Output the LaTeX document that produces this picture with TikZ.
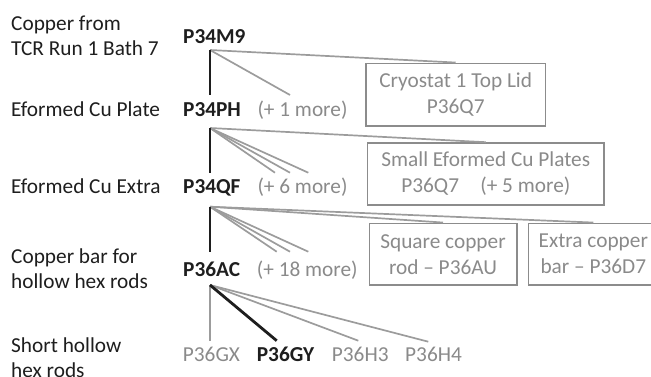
\documentclass[tikz,border=0pt]{standalone}
\usepackage{fontspec}
\setmainfont{Carlito}
\definecolor{ink}{HTML}{1E1E1E}
\definecolor{greytext}{HTML}{8A8A8A}
\definecolor{greyline}{HTML}{9C9C9C}
\definecolor{greybox}{HTML}{8C8C8C}
\tikzset{
  lbl/.style={anchor=base west, inner sep=0pt, text=ink, font=\fontsize{21.3bp}{26bp}\selectfont},
  idb/.style={lbl, font=\fontsize{21.3bp}{26bp}\selectfont\bfseries},
  idg/.style={lbl, text=greytext},
  boxnode/.style={draw=greybox, line width=1.6bp, inner sep=0pt, align=center, text=greytext,
    font=\fontsize{21.3bp}{26bp}\selectfont},
  mainlink/.style={draw=ink, line width=2.8bp},
  sidelink/.style={draw=greyline, line width=1.7bp}
}
\begin{document}
\begin{tikzpicture}[x=1bp, y=-1bp]
\useasboundingbox (0,0) rectangle (651,376);
\clip (0,0) rectangle (651,376);
% left labels
\node[lbl] (l0a) at (11,30) {Copper from};
\node[lbl] (l0b) at (11,55) {TCR Run 1 Bath 7};
\node[lbl] (l1) at (11,116.5) {Eformed Cu Plate};
\node[lbl] (l2) at (11,193.5) {Eformed Cu Extra};
\node[lbl] (l3a) at (11,263) {Copper bar for};
\node[lbl] (l3b) at (11,288) {hollow hex rods};
\node[lbl] (l4a) at (11,352.5) {Short hollow};
\node[lbl] (l4b) at (11,377.5) {hex rods};
% middle column
\node[idb] (m9) at (183,43.3) {P34M9};
\node[idb] (ph) at (183,116) {P34PH};
\node[idg] (phm) at (257.3,116) {(+ 1 more)};
\node[idb] (qf) at (183,193.5) {P34QF};
\node[idg] (qfm) at (257.3,193.5) {(+ 6 more)};
\node[idb] (ac) at (183,276) {P36AC};
\node[idg] (acm) at (256.7,276) {(+ 18 more)};
\node[idg] (gx) at (182.7,361.7) {P36GX};
\node[idb] (gy) at (256.7,361.7) {P36GY};
\node[idg] (h3) at (331.7,361.7) {P36H3};
\node[idg] (h4) at (405,361.7) {P36H4};
% boxes
\node[boxnode, minimum width=179.3bp, minimum height=62.7bp] (b1) at (455.7,94.7) {Cryostat 1 Top Lid\\P36Q7};
\node[boxnode, minimum width=236.5bp, minimum height=62bp] (b2) at (485.8,174) {Small Eformed Cu Plates\\P36Q7\quad(+ 5 more)};
\node[boxnode, minimum width=147.4bp, minimum height=61.7bp] (b3) at (443,254.2) {Square copper\\rod -- P36AU};
\node[boxnode, minimum width=130bp, minimum height=61.7bp] (b4) at (593.3,254.2) {Extra copper\\bar -- P36D7};
% link points
\coordinate (o0) at (210,50);
\coordinate (t1) at (210,95);
\coordinate (h01) at (290,95);
\coordinate (o1) at (210,128);
\coordinate (t2) at (210,173);
\coordinate (h11) at (275,172.7);
\coordinate (h12) at (290,172.7);
\coordinate (h13) at (308.3,172.7);
\coordinate (o2) at (210,206.7);
\coordinate (t3) at (210,251.7);
\coordinate (h21) at (276.7,251.7);
\coordinate (h22) at (290,251.7);
\coordinate (h23) at (308.3,251.7);
\coordinate (o3) at (210,285);
\coordinate (tgx) at (210,340.7);
\coordinate (tgy) at (276.7,340.7);
\coordinate (th3) at (358.3,340.7);
\coordinate (th4) at (428.3,341.7);
% links
\draw[sidelink] (o0) -- (h01);
\draw[sidelink] (o0) -- (b1.north);
\draw[mainlink] (o0) -- (t1);
\draw[sidelink] (o1) -- (h11);
\draw[sidelink] (o1) -- (h12);
\draw[sidelink] (o1) -- (h13);
\draw[sidelink] (o1) -- (b2.north);
\draw[mainlink] (o1) -- (t2);
\draw[sidelink] (o2) -- (h21);
\draw[sidelink] (o2) -- (h22);
\draw[sidelink] (o2) -- (h23);
\draw[sidelink] (o2) -- (b3.north);
\draw[sidelink] (o2) -- (b4.north);
\draw[mainlink] (o2) -- (t3);
\draw[sidelink] (o3) -- (tgx);
\draw[sidelink] (o3) -- (th3);
\draw[sidelink] (o3) -- (th4);
\draw[mainlink] (o3) -- (tgy);
\end{tikzpicture}
\end{document}
